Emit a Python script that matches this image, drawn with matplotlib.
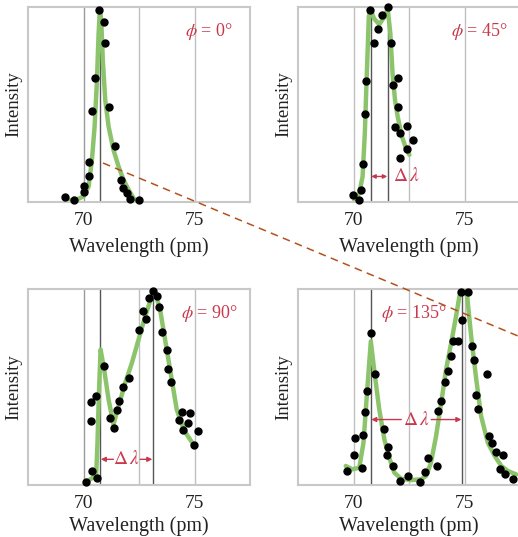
import matplotlib
matplotlib.use('Agg')
import matplotlib.pyplot as plt
from matplotlib.lines import Line2D

plt.rcParams['font.family'] = ['Liberation Serif', 'DejaVu Serif']
plt.rcParams['mathtext.fontset'] = 'stix'

# Angles of the four panels
angles = ['0', '45', '90', '135']

# Measured points (wavelength in pm, relative intensity)
pts_x = [
    [69.18, 69.58, 70.00, 70.03, 70.23, 70.26, 70.39, 70.53, 70.72, 70.92, 70.96,
     71.17, 71.44, 71.70, 71.76, 71.95, 72.10, 72.48],
    [69.98, 70.23, 70.36, 70.45, 70.51, 70.57, 70.74, 70.93, 71.11, 71.30, 71.55,
     71.70, 71.78, 71.99, 71.99, 71.88, 72.08, 72.11, 72.39, 72.39, 72.67],
    [70.12, 70.38, 70.60, 70.33, 70.35, 70.56, 70.93, 71.20, 71.37, 71.50, 71.61,
     71.77, 72.04, 72.52, 72.67, 72.81, 72.93, 73.12, 73.30, 73.41, 73.54, 73.75,
     73.81, 73.95, 74.28, 74.43, 74.47, 74.70, 74.80, 74.98, 75.15],
    [69.70, 70.00, 70.05, 70.38, 70.44, 70.54, 70.60, 70.78, 70.99, 71.36, 71.54,
     71.51, 71.79, 72.11, 72.44, 72.99, 73.22, 73.37, 73.75, 73.80, 73.92, 74.11,
     74.25, 74.40, 74.49, 74.70, 74.85, 74.89, 75.15, 75.35, 75.45, 75.54, 75.63,
     76.02, 76.11, 76.23, 76.42, 76.75, 76.60, 76.84, 77.18],
]
pts_y = [
    [0.024, 0.012, 0.083, 0.049, 0.135, 0.204, 0.468, 0.634, 0.983, 0.923, 0.813,
     0.486, 0.288, 0.114, 0.072, 0.046, 0.015, 0.012],
    [0.037, 0.012, 0.060, 0.194, 0.451, 0.620, 0.986, 0.813, 0.886, 0.957, 1.000,
     0.813, 0.600, 0.637, 0.486, 0.387, 0.353, 0.228, 0.392, 0.273, 0.319],
    [0.017, 0.071, 0.037, 0.326, 0.424, 0.453, 0.606, 0.343, 0.292, 0.382, 0.431,
     0.501, 0.547, 0.793, 0.886, 0.847, 0.954, 0.992, 0.966, 0.907, 0.779, 0.688,
     0.593, 0.526, 0.331, 0.372, 0.280, 0.314, 0.368, 0.204, 0.278],
    [0.071, 0.151, 0.238, 0.085, 0.255, 0.372, 0.482, 0.776, 0.567, 0.284, 0.194,
     0.151, 0.097, 0.020, 0.046, 0.015, 0.066, 0.136, 0.097, 0.377, 0.428, 0.526,
     0.584, 0.660, 0.733, 0.733, 0.985, 0.844, 0.985, 0.708, 0.640, 0.457, 0.389,
     0.567, 0.250, 0.212, 0.168, 0.151, 0.080, 0.054, 0.032],
]

# Fitted curves
fit_x = [
    [69.36, 69.69, 70.00, 70.23, 70.38, 70.50, 70.60, 70.68, 70.74, 70.80, 70.87,
     70.98, 71.13, 71.35, 71.58, 71.80, 72.03, 72.25, 72.40],
    [70.03, 70.26, 70.41, 70.51, 70.60, 70.69, 70.75, 70.93, 71.16, 71.39, 71.54,
     71.66, 71.76, 71.87, 71.99, 72.18, 72.36, 72.52],
    [70.08, 70.57, 70.63, 70.69, 70.77, 70.93, 71.13, 71.35, 71.58, 71.88, 72.18,
     72.48, 72.78, 73.00, 73.15, 73.30, 73.45, 73.60, 73.75, 73.90, 74.05, 74.20,
     74.43, 74.65, 74.95],
    [69.65, 69.95, 70.26, 70.45, 70.63, 70.78, 70.93, 71.16, 71.39, 71.61, 71.84,
     72.14, 72.59, 73.04, 73.27, 73.49, 73.72, 73.95, 74.17, 74.40, 74.62, 74.77,
     74.88, 75.00, 75.12, 75.30, 75.53, 75.75, 76.05, 76.36, 76.66, 76.96, 77.33],
]
fit_y = [
    [0.007, 0.012, 0.029, 0.080, 0.216, 0.387, 0.608, 0.864, 0.990, 0.930, 0.727,
     0.523, 0.387, 0.267, 0.182, 0.114, 0.063, 0.020, 0.003],
    [0.003, 0.046, 0.131, 0.353, 0.659, 0.949, 0.991, 0.940, 0.911, 0.949, 0.991,
     0.864, 0.659, 0.523, 0.438, 0.336, 0.276, 0.242],
    [0.012, 0.049, 0.216, 0.453, 0.691, 0.589, 0.436, 0.309, 0.402, 0.521, 0.623,
     0.742, 0.861, 0.937, 0.980, 0.954, 0.895, 0.793, 0.691, 0.589, 0.487, 0.385,
     0.309, 0.258, 0.207],
    [0.097, 0.080, 0.088, 0.216, 0.504, 0.733, 0.589, 0.385, 0.233, 0.139, 0.063,
     0.032, 0.025, 0.029, 0.046, 0.114, 0.250, 0.419, 0.589, 0.725, 0.861, 0.963,
     0.993, 0.988, 0.963, 0.759, 0.538, 0.351, 0.216, 0.148, 0.097, 0.071, 0.054],
]

# Peak wavelengths (unshifted, shifted) marked with dark lines
peak_lines = [[70.75], [70.78, 71.54], [70.75, 73.12], [70.78, 74.88]]
grid_lines = [70, 72.5, 75]
xticks = [70, 75]

RED = '#c8384c'
GREEN = '#8cc46c'

W, H = 518, 537
fig = plt.figure(figsize=(W / 100, H / 100), dpi=100)
fig.patch.set_facecolor('white')

# axes boxes in pixels: left, top, bottom
boxes = [(28, 7, 202), (298, 7, 202), (28, 289, 485), (298, 289, 485)]
axes = []
for i, (l, t, b) in enumerate(boxes):
    ax = fig.add_axes([l / W, 1 - b / H, 222 / W, (b - t) / H])
    axes.append(ax)
    ax.set_xlim(67.5, 77.5)
    ax.set_ylim(0, 1)
    for gx in grid_lines:
        gcol = '#9a9a9a' if (gx == 70 and i in (0, 2)) else '#c0c0c0'
        ax.axvline(gx, color=gcol, lw=1.0, zorder=1)
    for px in peak_lines[i]:
        ax.axvline(px, color='#555555', lw=1.0, zorder=1)
    ax.plot(fit_x[i], fit_y[i], color=GREEN, lw=3.2, zorder=2,
            solid_joinstyle='round', solid_capstyle='round')
    ax.plot(pts_x[i], pts_y[i], 'o', color='black', ms=5.0, zorder=3,
            clip_on=False)
    ax.set_xticks(xticks)
    ax.set_xticklabels([str(t) for t in xticks], fontsize=14, color='#222222')
    ax.tick_params(axis='x', length=0, pad=7)
    ax.set_yticks([])
    for s in ax.spines.values():
        s.set_color('#c8c8c8')
        s.set_linewidth(1.5)
    ax.set_xlabel('Wavelength (pm)', fontsize=14.5, color='#222222',
                  labelpad=6 if i < 2 else 3)
    ax.set_ylabel('Intensity', fontsize=13.5, color='#222222', labelpad=4)
    phi_x = 72.74 if i == 3 else 75.65
    ax.text(phi_x, 0.875, r'$\phi$ = ' + angles[i] + '°', color=RED,
            fontsize=13, ha='center', va='center', zorder=4)

# Delta lambda markers
arrow = dict(arrowstyle='-|>', color=RED, lw=1.0, mutation_scale=7,
             shrinkA=0, shrinkB=0)
ax = axes[1]
ax.annotate('', xy=(70.80, 0.131), xytext=(71.52, 0.131),
            arrowprops=dict(arrowstyle='<|-|>', color=RED, lw=1.0,
                            mutation_scale=6, shrinkA=0, shrinkB=0))
ax.text(71.76, 0.131, r'$\Delta\,\lambda$', color=RED, fontsize=14,
        ha='left', va='center')

ax = axes[2]
ax.text(71.95, 0.131, r'$\Delta\,\lambda$', color=RED, fontsize=14,
        ha='center', va='center')
ax.annotate('', xy=(70.78, 0.131), xytext=(71.35, 0.131), arrowprops=arrow)
ax.annotate('', xy=(73.10, 0.131), xytext=(72.55, 0.131), arrowprops=arrow)

ax = axes[3]
ax.text(72.82, 0.334, r'$\Delta\,\lambda$', color=RED, fontsize=14,
        ha='center', va='center')
ax.annotate('', xy=(70.80, 0.334), xytext=(72.15, 0.334), arrowprops=arrow)
ax.annotate('', xy=(74.86, 0.334), xytext=(73.50, 0.334), arrowprops=arrow)

# dashed guide line across the figure
fig.add_artist(Line2D([103 / W, 1.0], [1 - 163 / H, 1 - 336 / H],
                      transform=fig.transFigure, color='#b5501e', lw=1.1,
                      linestyle=(0, (5, 3.5)), zorder=10))

fig.savefig('out.png', dpi=100, facecolor='white')
